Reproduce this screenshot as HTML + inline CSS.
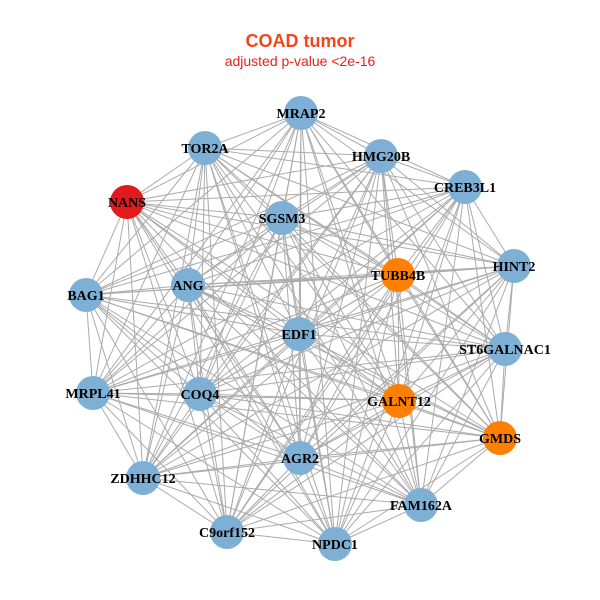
<!DOCTYPE html>
<html><head><meta charset="utf-8"><style>
html,body{margin:0;padding:0;background:#fff;}
svg{display:block}
</style></head><body>
<svg id="g" width="600" height="600" xmlns="http://www.w3.org/2000/svg">
<rect width="600" height="600" fill="#fff"/>
<text x="300" y="47" text-anchor="middle" font-family="Liberation Sans, sans-serif" font-weight="bold" font-size="18" fill="#f2461a">COAD tumor</text>
<text x="300" y="66" text-anchor="middle" font-family="Liberation Sans, sans-serif" font-size="14" fill="#e8201a">adjusted p-value &lt;2e-16</text>
<g id="edges" stroke="#ababab" stroke-width="1"></g>
<g id="nodes"></g>
</svg>
<script>
var N=[["MRAP2",301,113,"b"],["TOR2A",205,148,"b"],["HMG20B",381,156,"b"],["CREB3L1",465,187,"b"],["NANS",127,202,"r"],["SGSM3",282,218,"b"],["HINT2",514,266,"b"],["TUBB4B",398,275,"o"],["ANG",188,285,"b"],["BAG1",86,295,"b"],["EDF1",299,334,"b"],["ST6GALNAC1",505,349,"b"],["MRPL41",93,393,"b"],["COQ4",200,394,"b"],["GALNT12",399,401,"o"],["GMDS",500,438,"o"],["AGR2",300,458,"b"],["ZDHHC12",143,478,"b"],["FAM162A",421,505,"b"],["C9orf152",227,532,"b"],["NPDC1",335,544,"b"]];
var ns="http://www.w3.org/2000/svg",E=document.getElementById("edges"),G=document.getElementById("nodes");
for(var i=0;i<N.length;i++)for(var j=i+1;j<N.length;j++){var l=document.createElementNS(ns,"line");l.setAttribute("x1",N[i][1]);l.setAttribute("y1",N[i][2]);l.setAttribute("x2",N[j][1]);l.setAttribute("y2",N[j][2]);E.appendChild(l);}
var C={b:"#7eb0d6",r:"#e31a1c",o:"#ff7f00"};
N.forEach(function(n){var c=document.createElementNS(ns,"circle");c.setAttribute("cx",n[1]);c.setAttribute("cy",n[2]);c.setAttribute("r",17);c.setAttribute("fill",C[n[3]]);G.appendChild(c);});
N.forEach(function(n){var t=document.createElementNS(ns,"text");t.setAttribute("x",n[1]);t.setAttribute("y",n[2]+5);t.setAttribute("text-anchor","middle");t.setAttribute("font-family","Liberation Serif, serif");t.setAttribute("font-weight","bold");t.setAttribute("font-size","14");t.textContent=n[0];G.appendChild(t);});
</script>
</body></html>
